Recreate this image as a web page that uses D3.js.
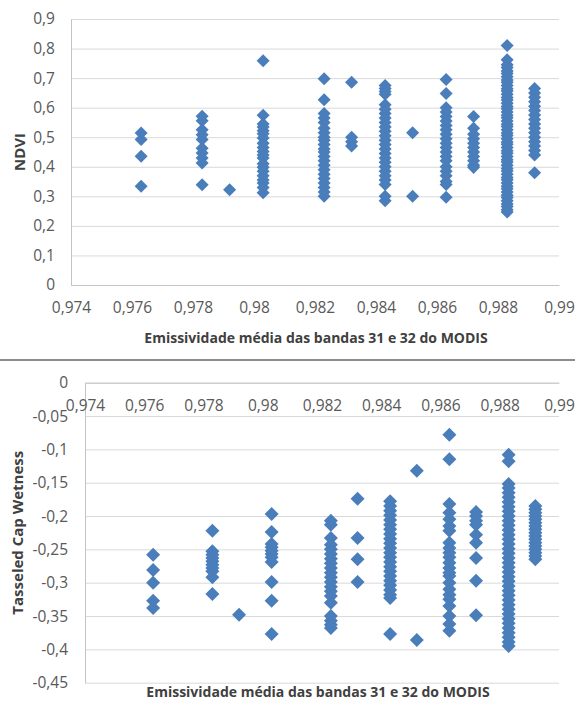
<!DOCTYPE html>
<html>
<head>
<meta charset="utf-8">
<script src="https://cdn.jsdelivr.net/npm/d3@7"></script>
<style>
  body { margin: 0; background: #fff; }
  text { font-family: "Open Sans", "Noto Sans", sans-serif; }
</style>
</head>
<body>
<svg id="chart" width="575" height="702"></svg>
<script>
// emissivity classes (x) shared by both panels
var emis = [0.9763, 0.9783, 0.9792, 0.9803, 0.9823, 0.9832, 0.9843, 0.9852, 0.9863, 0.9872, 0.9883, 0.9892];

// NDVI readings, one list per emissivity class
var ndvi = [
  [0.514, 0.492, 0.436, 0.334],
  [0.571, 0.556, 0.525, 0.508, 0.492, 0.463, 0.447, 0.43, 0.413, 0.339],
  [0.322],
  [0.759, 0.574, 0.545, 0.535, 0.522, 0.512, 0.497, 0.48, 0.465, 0.452, 0.44, 0.43, 0.41, 0.398, 0.385, 0.37, 0.355, 0.345, 0.33, 0.312],
  [0.698, 0.627, 0.58, 0.565, 0.55, 0.53, 0.515, 0.5, 0.49, 0.475, 0.46, 0.45, 0.435, 0.42, 0.405, 0.39, 0.375, 0.36, 0.345, 0.33, 0.315, 0.3],
  [0.686, 0.5, 0.485, 0.47],
  [0.675, 0.665, 0.655, 0.645, 0.61, 0.595, 0.58, 0.565, 0.55, 0.535, 0.52, 0.505, 0.49, 0.475, 0.46, 0.445, 0.43, 0.415, 0.4, 0.385, 0.37, 0.355, 0.34, 0.3, 0.285],
  [0.515, 0.3],
  [0.695, 0.648, 0.6, 0.585, 0.57, 0.555, 0.54, 0.525, 0.51, 0.495, 0.48, 0.465, 0.45, 0.435, 0.42, 0.4, 0.385, 0.37, 0.35, 0.34, 0.297],
  [0.57, 0.53, 0.51, 0.495, 0.48, 0.465, 0.45, 0.435, 0.42, 0.405, 0.398],
  [0.81, 0.762, 0.745, 0.736, 0.724, 0.716, 0.705, 0.694, 0.686, 0.675, 0.664, 0.656, 0.645, 0.634, 0.626, 0.615, 0.604, 0.596, 0.585, 0.574, 0.566, 0.555,
   0.544, 0.536, 0.525, 0.514, 0.506, 0.495, 0.484, 0.476, 0.465, 0.454, 0.446, 0.435, 0.424, 0.416, 0.405, 0.394, 0.386, 0.375, 0.364, 0.356,
   0.345, 0.334, 0.326, 0.315, 0.304, 0.296, 0.285, 0.274, 0.266, 0.255, 0.247],
  [0.665, 0.65, 0.635, 0.62, 0.605, 0.59, 0.575, 0.56, 0.545, 0.53, 0.515, 0.5, 0.485, 0.47, 0.455, 0.44, 0.38]
];

// Tasseled Cap Wetness readings, same classes
var wetness = [
  [-0.258, -0.281, -0.3, -0.327, -0.338],
  [-0.222, -0.253, -0.258, -0.263, -0.268, -0.273, -0.278, -0.283, -0.292, -0.317],
  [-0.348],
  [-0.197, -0.224, -0.242, -0.247, -0.252, -0.257, -0.262, -0.269, -0.299, -0.327, -0.377],
  [-0.207, -0.213, -0.233, -0.243, -0.25, -0.257, -0.264, -0.271, -0.278, -0.285, -0.292, -0.299, -0.306, -0.313, -0.32, -0.33, -0.35, -0.357, -0.363, -0.368],
  [-0.174, -0.233, -0.265, -0.299],
  [-0.178, -0.185, -0.192, -0.199, -0.206, -0.213, -0.22, -0.227, -0.234, -0.241, -0.248, -0.255, -0.262, -0.269, -0.276, -0.283, -0.29, -0.297, -0.304, -0.311, -0.318, -0.323, -0.377],
  [-0.132, -0.386],
  [-0.078, -0.115, -0.182, -0.195, -0.205, -0.215, -0.222, -0.24, -0.248, -0.255, -0.262, -0.27, -0.278, -0.285, -0.29, -0.3, -0.31, -0.318, -0.325, -0.335, -0.35, -0.362, -0.372],
  [-0.194, -0.2, -0.207, -0.213, -0.228, -0.24, -0.263, -0.297, -0.349],
  [-0.108, -0.118, -0.152, -0.158, -0.165, -0.172, -0.179, -0.186, -0.193, -0.2, -0.207, -0.214, -0.221, -0.228, -0.235, -0.242, -0.249, -0.256, -0.263,
   -0.27, -0.277, -0.284, -0.291, -0.298, -0.305, -0.312, -0.319, -0.326, -0.333, -0.34, -0.347, -0.354, -0.361, -0.368, -0.375, -0.382, -0.389, -0.395],
  [-0.185, -0.19, -0.195, -0.2, -0.205, -0.21, -0.215, -0.22, -0.225, -0.23, -0.235, -0.24, -0.245, -0.25, -0.255, -0.26, -0.265]
];

var xTicks = [0.974, 0.976, 0.978, 0.98, 0.982, 0.984, 0.986, 0.988, 0.99];
var ndviTicks = [0, 0.1, 0.2, 0.3, 0.4, 0.5, 0.6, 0.7, 0.8, 0.9];
var wetTicks = [0, -0.05, -0.1, -0.15, -0.2, -0.25, -0.3, -0.35, -0.4, -0.45];

var xTitle = "Emissividade média das bandas 31 e 32 do MODIS";

var blue = "#4a7ebb",
    gridColor = "#d9d9d9",
    axisColor = "#c4c4c4",
    labelColor = "#595959";

// comma as decimal separator, plain hyphen for minus
var locale = d3.formatLocale({decimal: ",", thousands: ".", grouping: [3], currency: ["", ""], minus: "-"});
var fmtX = locale.format(".3~f"),
    fmtNdvi = locale.format(".1~f"),
    fmtWet = locale.format(".2~f");

var svg = d3.select("#chart");

function points(values) {
  var out = [];
  values.forEach((col, i) => col.forEach(v => out.push({x: emis[i], y: v})));
  return out;
}

function panel(opt) {
  var g = svg.append("g");
  var x = d3.scaleLinear().domain([0.974, 0.99]).range(opt.xr);
  var y = d3.scaleLinear().domain(opt.yd).range(opt.yr);

  // horizontal gridlines
  g.append("g")
    .attr("transform", `translate(${opt.xr[0]},0)`)
    .call(d3.axisLeft(y).tickValues(opt.yTicks).tickSize(-(opt.xr[1] - opt.xr[0])).tickFormat(""))
    .call(a => a.select(".domain").remove())
    .selectAll("line").attr("stroke", gridColor);

  // y axis
  var ya = g.append("g")
    .attr("transform", `translate(${opt.xr[0]},0)`)
    .call(d3.axisLeft(y).tickValues(opt.yTicks).tickFormat(opt.fmtY).tickSize(0).tickSizeOuter(0).tickPadding(opt.yPad));
  ya.select(".domain").attr("stroke", axisColor);
  ya.selectAll("text").attr("fill", labelColor).style("font-size", "15.5px");

  // x axis sits on the zero line
  var xa = g.append("g")
    .attr("transform", `translate(0,${y(0)})`)
    .call(d3.axisBottom(x).tickValues(xTicks).tickFormat(fmtX).tickSize(0).tickSizeOuter(0).tickPadding(opt.xPad));
  xa.select(".domain").attr("stroke", axisColor);
  xa.selectAll("text").attr("fill", labelColor).style("font-size", "15.5px");

  g.append("g")
    .selectAll("path")
    .data(points(opt.values))
    .join("path")
      .attr("transform", d => `translate(${x(d.x)},${y(d.y)})`)
      .attr("d", d3.symbol(d3.symbolDiamond2, opt.size))
      .attr("fill", blue);

  g.append("text")
    .attr("transform", `translate(${opt.yTitleX},${(opt.yr[0] + opt.yr[1]) / 2}) rotate(-90)`)
    .attr("text-anchor", "middle")
    .attr("font-weight", "bold")
    .attr("fill", "#404040")
    .style("font-size", "15px")
    .text(opt.yTitle);

  g.append("text")
    .attr("x", opt.xTitlePos[0])
    .attr("y", opt.xTitlePos[1])
    .attr("text-anchor", "middle")
    .attr("font-weight", "bold")
    .attr("fill", "#404040")
    .style("font-size", "14px")
    .text(xTitle);
}

panel({
  values: ndvi, yd: [0, 0.9], yr: [285, 19], xr: [71, 559],
  yTicks: ndviTicks, fmtY: fmtNdvi, yPad: 16, xPad: 17, size: 108,
  yTitle: "NDVI", yTitleX: 25, xTitlePos: [316, 343]
});

// rule between the two charts
svg.append("line")
  .attr("x1", 0).attr("x2", 575)
  .attr("y1", 360).attr("y2", 360)
  .attr("stroke", "#8c8c8c")
  .attr("stroke-width", 2);

panel({
  values: wetness, yd: [-0.45, 0], yr: [682.7, 382.7], xr: [85, 559],
  yTicks: wetTicks, fmtY: fmtWet, yPad: 17, xPad: 17, size: 125,
  yTitle: "Tasseled Cap Wetness", yTitleX: 23, xTitlePos: [318, 697]
});
</script>
</body>
</html>
